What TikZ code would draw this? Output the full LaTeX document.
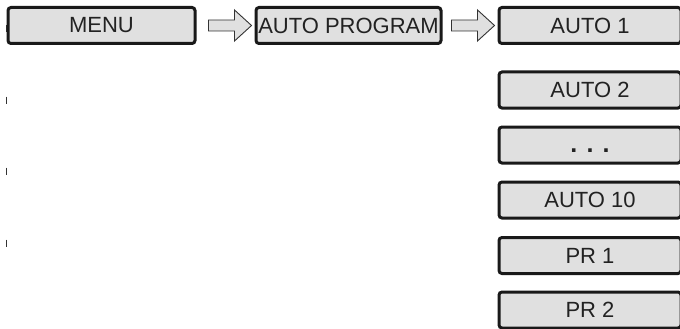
\documentclass[tikz,border=0pt]{standalone}
\usepackage{fontspec}
\setmainfont{Liberation Sans}
\usetikzlibrary{calc,positioning}
\definecolor{boxgray}{HTML}{E0E0E0}
\definecolor{txtgray}{HTML}{222222}
\tikzset{
         menubox/.style=
          {
           draw=black!90,
           fill=boxgray,
           line width=3pt,
           rounded corners=3pt,
           minimum height=36pt,
           inner sep=0pt,
           text=txtgray,
           font=\fontsize{22}{26}\selectfont
          },
         flowarrow/.style=
          {
           draw=black!80,
           fill=boxgray,
           line width=0.9pt,
           line join=miter
          }
        }

\begin{document}
\begin{tikzpicture}[x=1pt,y=-1pt]
\useasboundingbox(0,0)rectangle(680,329);
%margin ticks
\foreach \ty in {29,100,171,243}
  \draw[line width=1pt,black!80](6,\ty-3.5)--(6,\ty+3.5);
%menu path
\node[menubox,minimum width=187pt](menu)at(101.5,25.5){MENU};
\node[menubox,minimum width=185pt](prog)at(348.5,25.5){AUTO PROGRAM};
%program list
\node[menubox,minimum width=182pt](auto1)at(590,25.5){AUTO 1};
\node[menubox,minimum width=182pt](auto2)at(590,90){AUTO 2};
\node[menubox,minimum width=182pt](dots)at(590,145){\vphantom{A}\textbf{\fontsize{25}{26}\selectfont. . .}};
\node[menubox,minimum width=182pt](auto10)at(590,200){AUTO 10};
\node[menubox,minimum width=182pt](pr1)at(590,255.5){PR 1};
\node[menubox,minimum width=182pt](pr2)at(590,310){PR 2};
%arrows
\coordinate(arrA)at($(menu.east)+(12,0)$);
\coordinate(arrB)at($(prog.east)+(9,0)$);
\foreach \a in {arrA,arrB}
  \draw[flowarrow,shift={(\a)}](0,-5.5)--(26,-5.5)--(26,-15.5)--(43,0)--(26,15.5)--(26,5.5)--(0,5.5)--cycle;
\end{tikzpicture}
\end{document}
